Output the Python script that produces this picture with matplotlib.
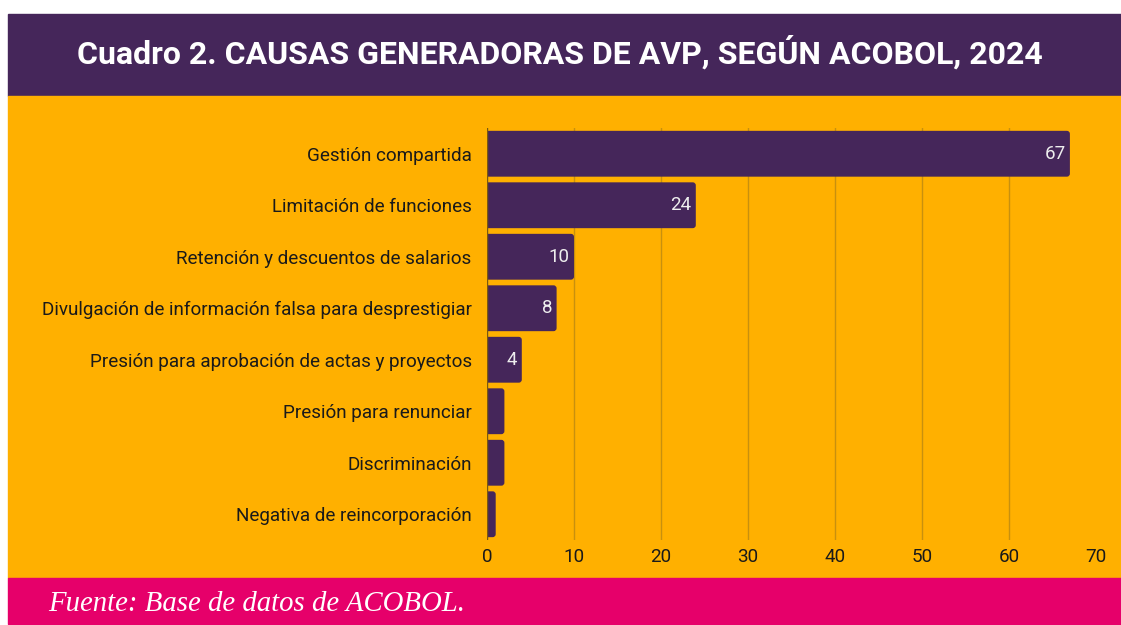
import matplotlib
matplotlib.use("Agg")
import matplotlib.pyplot as plt
from matplotlib.patches import Rectangle, FancyBboxPatch

# datos
causas = ["Gestión compartida", "Limitación de funciones",
          "Retención y descuentos de salarios",
          "Divulgación de información falsa para desprestigiar",
          "Presión para aprobación de actas y proyectos",
          "Presión para renunciar", "Discriminación",
          "Negativa de reincorporación"]
casos = [67, 24, 10, 8, 4, 2, 2, 1]
ticks_x = [0, 10, 20, 30, 40, 50, 60, 70]

purpura = "#45265A"
naranja = "#FFB000"
rosa = "#E6006A"
grid_col = "#C8900E"

W, H = 1121, 625
fig = plt.figure(figsize=(W / 100, H / 100), dpi=100)
fig.patch.set_facecolor("white")

# bandas de fondo (en pixeles -> fraccion de figura)
def banda(x0, y0, x1, y1, color):
    fig.patches.append(Rectangle((x0 / W, 1 - y1 / H), (x1 - x0) / W, (y1 - y0) / H,
                                 transform=fig.transFigure, color=color, zorder=-10))

banda(8, 14, W, 96, purpura)
banda(8, 96, W, 578, naranja)
banda(8, 578, W, 624, rosa)

fig.text(560 / W, 1 - 52 / H, "Cuadro 2. CAUSAS GENERADORAS DE AVP, SEGÚN ACOBOL, 2024",
         color="white", fontsize=23, fontweight="bold", family="Roboto",
         ha="center", va="center")
fig.text(48 / W, 1 - 604 / H, "Fuente: Base de datos de ACOBOL.",
         color="white", fontsize=20.7, style="italic", family="Liberation Serif",
         ha="left", va="center")

ax = fig.add_axes([487 / W, 1 - 540 / H, (1096 - 487) / W, (540 - 128) / H])
ax.set_zorder(5)
ax.set_facecolor("none")
ax.set_xlim(0, 70)
ax.set_ylim(7.5, -0.5)

# rejilla vertical (sin la de 70)
for v in ticks_x[1:-1]:
    ax.axvline(v, color=grid_col, lw=1, zorder=1)
ax.axvline(0, color="#7a5a10", lw=1, zorder=3)

alto = 0.89
for i, v in enumerate(casos):
    p = FancyBboxPatch((-1, i - alto / 2), v + 1, alto,
                       boxstyle="round,pad=0,rounding_size=0.35",
                       mutation_aspect=0.17, facecolor=purpura,
                       edgecolor="none", zorder=2)
    ax.add_patch(p)
    if v >= 4:
        ax.text(v - 0.5, i, str(v), color="#EEEEEE", fontsize=13.5,
                family="Roboto", ha="right", va="center", zorder=4)

ax.set_yticks(range(len(causas)))
ax.set_yticklabels(causas, family="Roboto", fontsize=13.6, color="#1a1a1a")
ax.set_xticks(ticks_x)
ax.set_xticklabels([str(t) for t in ticks_x], family="Roboto", fontsize=13.6,
                   color="#1a1a1a")
ax.tick_params(axis="y", length=0, pad=11)
ax.tick_params(axis="x", length=0, pad=6)
for s in ax.spines.values():
    s.set_visible(False)

fig.savefig("out.png", dpi=100)
